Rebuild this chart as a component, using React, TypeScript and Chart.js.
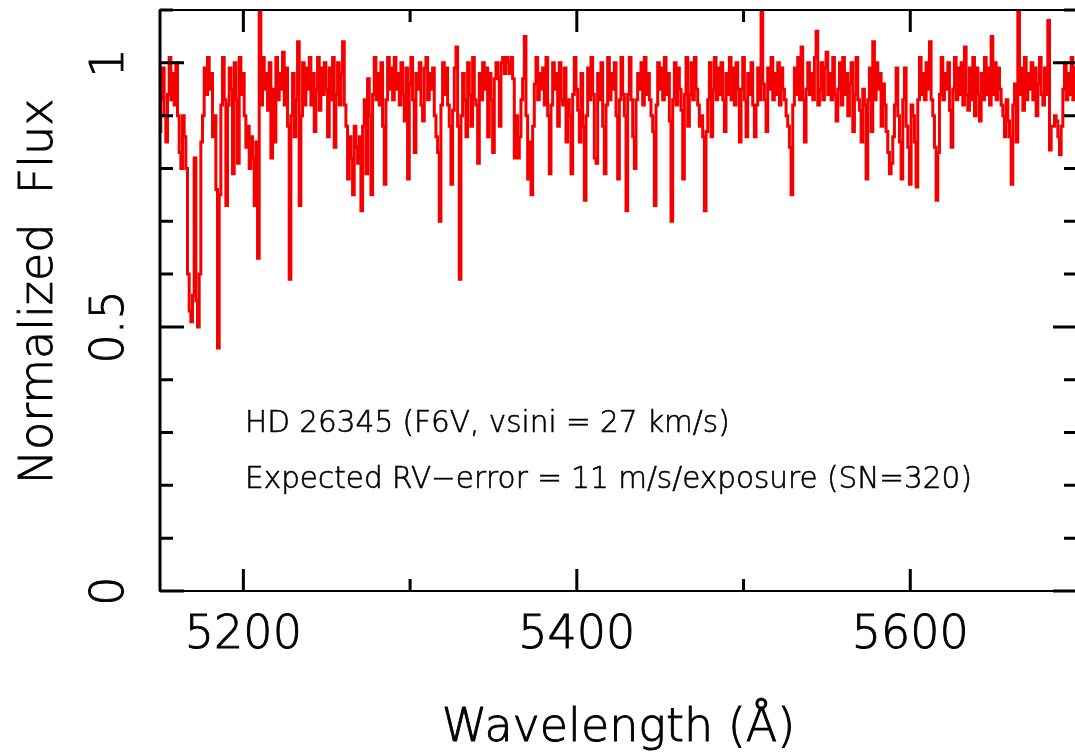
import React, { useEffect, useRef } from 'react';
import { Chart, registerables } from 'chart.js';

Chart.register(...registerables);

// Spectrum sampled every 1 Å from 5150 Å
const WAVELENGTH_START = 5150;
const WAVELENGTH_STEP = 1;
const FLUX: number[] = [
  0.87, 0.93, 0.99, 0.90, 0.85, 0.94, 1.01, 0.93, 0.98, 0.92, // 5150
  1.00, 0.90, 0.83, 0.80, 0.90, 0.86, 0.80, 0.60, 0.53, 0.51, // 5160
  0.56, 0.82, 0.55, 0.50, 0.60, 0.85, 0.90, 0.99, 0.94, 1.01, // 5170
  0.95, 0.98, 0.86, 0.90, 0.76, 0.46, 0.75, 0.92, 1.01, 0.93, // 5180
  0.73, 0.92, 0.99, 0.95, 0.79, 1.00, 0.93, 0.81, 1.01, 0.94, // 5190
  0.98, 0.90, 0.84, 0.88, 0.80, 0.86, 0.82, 0.73, 0.85, 0.63, // 5200
  1.10, 0.92, 1.01, 0.95, 0.98, 0.91, 1.00, 0.82, 0.95, 0.85, // 5210
  1.01, 0.93, 0.98, 0.95, 1.02, 0.92, 0.99, 0.88, 0.59, 0.90, // 5220
  0.98, 0.86, 0.93, 1.04, 0.73, 0.90, 1.00, 0.92, 0.99, 0.95, // 5230
  1.01, 0.92, 0.98, 0.87, 0.95, 1.01, 0.91, 0.99, 0.94, 1.00, // 5240
  0.95, 0.86, 0.99, 0.93, 1.01, 0.84, 0.94, 1.00, 0.92, 0.98, // 5250
  1.04, 0.92, 0.88, 0.78, 0.86, 0.82, 0.75, 0.88, 0.84, 0.81, // 5260
  0.86, 0.72, 0.88, 0.93, 0.79, 0.97, 0.90, 0.75, 0.94, 1.01, // 5270
  0.93, 0.98, 0.92, 1.00, 0.88, 0.77, 0.93, 1.01, 0.95, 0.99, // 5280
  0.93, 1.01, 0.95, 0.98, 0.92, 1.00, 0.94, 0.89, 0.99, 0.78, // 5290
  0.96, 1.01, 0.93, 0.83, 0.98, 0.95, 1.00, 0.92, 0.89, 0.99, // 5300
  1.01, 0.93, 0.98, 0.95, 0.99, 0.90, 0.86, 0.83, 0.70, 0.92, // 5310
  1.00, 0.94, 0.99, 0.92, 0.88, 0.77, 0.91, 0.99, 1.03, 0.88, // 5320
  0.59, 0.90, 0.98, 0.93, 0.86, 1.00, 0.94, 0.88, 1.01, 0.93, // 5330
  0.92, 0.81, 0.98, 0.93, 1.00, 0.95, 0.99, 0.86, 0.98, 0.93, // 5340
  0.83, 0.97, 1.00, 0.97, 0.88, 1.00, 1.01, 0.98, 1.01, 1.00, // 5350
  0.98, 1.01, 0.97, 0.82, 0.90, 0.82, 0.86, 0.93, 0.97, 1.05, // 5360
  0.90, 0.78, 0.85, 0.75, 0.88, 0.96, 1.01, 0.93, 0.98, 0.95, // 5370
  0.99, 0.92, 1.01, 0.90, 0.79, 0.92, 1.00, 0.95, 0.98, 0.88, // 5380
  1.00, 0.93, 0.92, 0.99, 0.85, 0.93, 0.90, 0.79, 0.94, 1.01, // 5390
  0.95, 0.91, 0.85, 0.98, 0.88, 0.74, 0.90, 0.99, 0.93, 1.01, // 5400
  0.94, 0.82, 0.81, 0.98, 0.93, 1.00, 0.88, 0.79, 0.92, 1.01, // 5410
  0.93, 0.98, 0.95, 1.00, 0.90, 0.78, 0.93, 1.01, 0.94, 0.90, // 5420
  0.72, 0.94, 1.01, 0.93, 0.86, 0.80, 0.93, 0.98, 0.95, 1.00, // 5430
  0.92, 1.01, 0.94, 0.98, 0.93, 0.90, 0.87, 0.73, 0.92, 1.00, // 5440
  0.95, 0.99, 0.93, 1.01, 0.94, 0.98, 0.89, 0.70, 0.93, 1.00, // 5450
  0.92, 0.99, 0.95, 0.91, 0.78, 0.94, 1.01, 0.88, 0.94, 1.00, // 5460
  0.93, 1.01, 0.95, 0.92, 0.88, 0.90, 0.86, 0.72, 0.87, 0.93, // 5470
  1.00, 0.86, 0.95, 1.01, 0.93, 0.99, 0.94, 1.00, 0.93, 0.87, // 5480
  0.98, 0.94, 1.01, 0.93, 0.99, 0.92, 1.00, 0.95, 0.85, 0.95, // 5490
  1.01, 0.93, 0.86, 0.98, 0.94, 1.00, 0.92, 0.86, 0.92, 0.99, // 5500
  0.93, 1.10, 0.96, 0.93, 0.87, 0.99, 0.95, 1.01, 0.93, 0.98, // 5510
  0.94, 1.00, 0.92, 0.99, 0.95, 0.93, 0.90, 0.88, 0.84, 0.75, // 5520
  0.92, 0.99, 0.94, 1.01, 0.93, 1.03, 0.93, 0.85, 0.95, 1.00, // 5530
  0.94, 0.98, 0.93, 1.01, 1.06, 0.92, 0.95, 1.00, 0.93, 0.99, // 5540
  1.02, 0.94, 0.98, 0.93, 1.01, 0.94, 0.89, 0.95, 1.00, 0.92, // 5550
  1.01, 0.94, 0.98, 0.90, 0.96, 1.00, 0.87, 0.94, 1.01, 0.93, // 5560
  0.91, 0.85, 0.95, 0.92, 0.78, 0.93, 0.99, 0.87, 1.04, 0.93, // 5570
  1.00, 0.95, 0.98, 0.88, 0.96, 0.92, 0.87, 0.83, 0.79, 0.81, // 5580
  0.86, 0.92, 0.99, 0.90, 0.85, 0.78, 0.93, 0.99, 0.88, 0.84, // 5590
  0.77, 0.92, 0.90, 0.85, 0.765, 0.93, 1.01, 0.94, 0.98, 0.93, // 5600
  1.00, 0.95, 1.04, 0.93, 0.90, 0.84, 0.74, 0.83, 0.94, 1.01, // 5610
  0.93, 0.98, 0.95, 1.00, 0.91, 0.84, 0.95, 1.01, 0.93, 0.99, // 5620
  0.94, 1.00, 0.92, 1.03, 0.94, 0.91, 0.99, 0.93, 1.01, 0.90, // 5630
  0.99, 0.94, 0.89, 0.98, 0.93, 1.01, 0.94, 0.99, 0.92, 1.05, // 5640
  0.94, 1.00, 0.93, 0.99, 0.95, 0.92, 0.90, 0.86, 0.93, 0.89, // 5650
  0.86, 0.77, 0.92, 0.96, 0.85, 1.10, 0.94, 0.99, 0.91, 1.01, // 5660
  0.93, 0.98, 0.95, 1.00, 0.93, 0.99, 0.90, 0.96, 1.01, 0.94, // 5670
  0.92, 0.99, 0.94, 1.08, 0.835, 0.88, 0.88, 0.90, 0.89, 0.86, // 5680
  0.826, 0.88, 0.95, 1.00, 0.93, 0.98, 0.94, 1.01, 0.93, 0.99, // 5690
  0.96, // 5700
];

const X_MIN = 5150;
const X_MAX = 5700;
const Y_MIN = 0;
const Y_MAX = 1.1;
const X_MAJOR_TICKS = [5200, 5400, 5600];
const X_MINOR_TICKS = [5300, 5500, 5700];
const X_TICK_LABELS = ['5200', '5400', '5600'];
const Y_MAJOR_TICKS = [0, 0.5, 1];
const Y_MINOR_TICKS = [0.1, 0.2, 0.3, 0.4, 0.6, 0.7, 0.8, 0.9, 1.1];
const Y_TICK_LABELS = ['0', '0.5', '1'];
const X_TITLE = 'Wavelength (Å)';
const Y_TITLE = 'Normalized  Flux';
const NOTE_LINES = [
  'HD 26345 (F6V, vsini = 27 km/s)',
  'Expected RV\u2212error = 11 m/s/exposure (SN=320)',
];
const NOTE_X = 5201;
const NOTE_Y = [0.315, 0.21];

const FONT_FAMILY = '"DejaVu Sans", "Liberation Sans", sans-serif';

const framePlugin = {
  id: 'pgplotFrame',
  afterDraw(chart: any) {
    const ctx: CanvasRenderingContext2D = chart.ctx;
    const { left, right, top, bottom } = chart.chartArea;
    const xs = chart.scales.x;
    const ys = chart.scales.y;
    ctx.save();
    ctx.strokeStyle = '#000';
    ctx.fillStyle = '#000';
    // frame
    ctx.lineWidth = 2;
    ctx.beginPath();
    ctx.moveTo(left, top);
    ctx.lineTo(right, top);
    ctx.lineTo(right, bottom);
    ctx.lineTo(left, bottom);
    ctx.closePath();
    ctx.stroke();
    ctx.lineWidth = 3;
    ctx.beginPath();
    ctx.moveTo(left, top);
    ctx.lineTo(left, bottom);
    ctx.stroke();
    // ticks
    ctx.lineWidth = 3;
    const drawX = (v: number, len: number) => {
      const px = xs.getPixelForValue(v);
      ctx.beginPath();
      ctx.moveTo(px, bottom);
      ctx.lineTo(px, bottom - len);
      ctx.moveTo(px, top);
      ctx.lineTo(px, top + len);
      ctx.stroke();
    };
    const drawY = (v: number, len: number) => {
      const py = ys.getPixelForValue(v);
      ctx.beginPath();
      ctx.moveTo(left, py);
      ctx.lineTo(left + len, py);
      ctx.moveTo(right, py);
      ctx.lineTo(right - len, py);
      ctx.stroke();
    };
    X_MAJOR_TICKS.forEach((v) => drawX(v, 22));
    X_MINOR_TICKS.forEach((v) => drawX(v, 12));
    Y_MAJOR_TICKS.forEach((v) => drawY(v, 24));
    Y_MINOR_TICKS.forEach((v) => drawY(v, 13));

    const text = (t: string, x: number, y: number) => {
      ctx.fillText(t, x, y);
      ctx.strokeText(t, x, y);
    };

    // tick labels
    ctx.lineWidth = 0.9;
    ctx.font = `200 46px ${FONT_FAMILY}`;
    ctx.textAlign = 'center';
    ctx.textBaseline = 'middle';
    X_MAJOR_TICKS.forEach((v, i) => {
      text(X_TICK_LABELS[i], xs.getPixelForValue(v), bottom + 45);
    });
    Y_MAJOR_TICKS.forEach((v, i) => {
      ctx.save();
      ctx.translate(left - 49, ys.getPixelForValue(v));
      ctx.rotate(-Math.PI / 2);
      text(Y_TICK_LABELS[i], 0, 0);
      ctx.restore();
    });

    // axis titles
    text(X_TITLE, (left + right) / 2, bottom + 138);
    ctx.save();
    ctx.translate(left - 120, (top + bottom) / 2 - 9);
    ctx.rotate(-Math.PI / 2);
    text(Y_TITLE, 0, 0);
    ctx.restore();

    // annotation
    ctx.lineWidth = 0.6;
    ctx.font = `200 29.5px ${FONT_FAMILY}`;
    ctx.textAlign = 'left';
    NOTE_LINES.forEach((t, i) => {
      text(t, xs.getPixelForValue(NOTE_X), ys.getPixelForValue(NOTE_Y[i]));
    });
    ctx.restore();
  },
};

export default function App() {
  const ref = useRef<HTMLCanvasElement | null>(null);
  useEffect(() => {
    if (!ref.current) return;
    const points = FLUX.map((f, i) => ({ x: WAVELENGTH_START + i * WAVELENGTH_STEP, y: f }));
    const chart = new Chart(ref.current, {
      type: 'line',
      data: {
        datasets: [
          {
            data: points,
            borderColor: 'rgb(245,0,0)',
            borderWidth: 3,
            pointRadius: 0,
            stepped: 'middle',
            fill: false,
          },
        ],
      },
      options: {
        animation: false,
        responsive: false,
        devicePixelRatio: 1,
        layout: { padding: { left: 160, top: 10, right: 1, bottom: 164 } },
        plugins: { legend: { display: false }, tooltip: { enabled: false } },
        scales: {
          x: { type: 'linear', min: X_MIN, max: X_MAX, display: false },
          y: { type: 'linear', min: Y_MIN, max: Y_MAX, display: false },
        },
      },
      plugins: [framePlugin],
    });
    return () => chart.destroy();
  }, []);
  return (
    <div
      style={{
        position: 'fixed',
        left: 0,
        top: 0,
        width: 1075,
        height: 755,
        overflow: 'hidden',
        background: '#fff',
      }}
    >
      <canvas ref={ref} width={1078} height={755} style={{ display: 'block' }} />
    </div>
  );
}
